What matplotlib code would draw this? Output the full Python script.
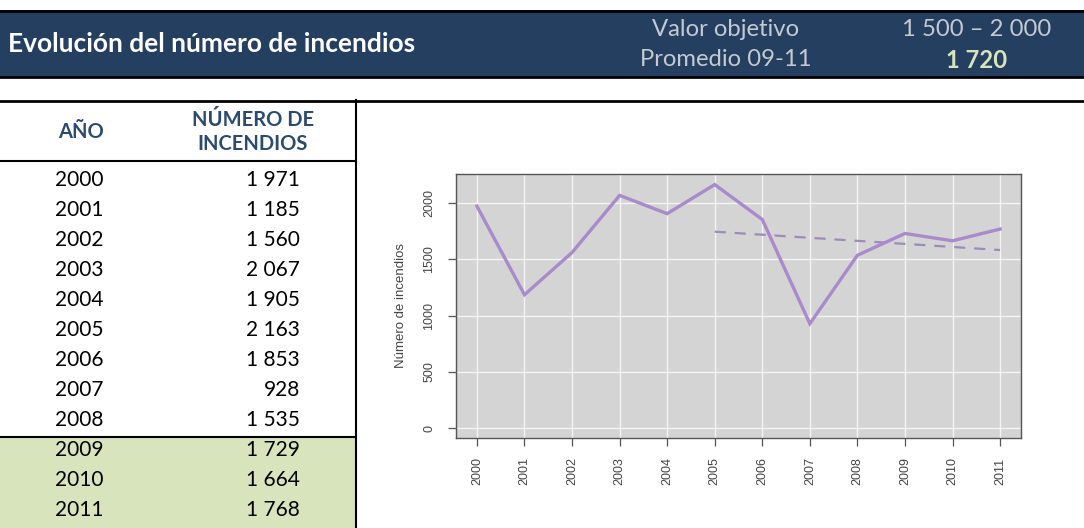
import matplotlib
matplotlib.use("Agg")
import matplotlib.pyplot as plt
from matplotlib.patches import Rectangle
from matplotlib.lines import Line2D

# ---- data ----
years = [2000, 2001, 2002, 2003, 2004, 2005, 2006, 2007, 2008, 2009, 2010, 2011]
fires = [1971, 1185, 1560, 2067, 1905, 2163, 1853, 928, 1535, 1729, 1664, 1768]
trend_years = [2005, 2011]
trend_values = [1745, 1582]
y_ticks = [0, 500, 1000, 1500, 2000]
title = "Evolución del número de incendios"
target_label = "Valor objetivo"
target_value = "1 500 – 2 000"
avg_label = "Promedio 09-11"
avg_value = "1 720"
col_headers = ["AÑO", "NÚMERO DE\nINCENDIOS"]

W, H = 1084, 528
fig = plt.figure(figsize=(W / 100, H / 100), dpi=100)
fig.patch.set_facecolor("white")

def fx(x):
    return x / W

def fy(y):
    return 1 - y / H

FONT = ["Lato", "DejaVu Sans"]
NAVY = "#243F60"
HEAD_BLUE = "#2B4B6E"
GREEN = "#D8E4BC"
LIGHT = "#C4CAD2"
RFS = 17.2

# ---- header banner ----
fig.patches.append(Rectangle((0, fy(77)), 1, (77 - 10) / H, transform=fig.transFigure,
                             facecolor=NAVY, edgecolor="none", zorder=0))
for yy in (10.5, 76.5):
    fig.lines.append(Line2D([0, 1], [fy(yy), fy(yy)], transform=fig.transFigure,
                            color="black", lw=2))
fig.text(fx(8), fy(44), title, color="white", fontsize=19, fontweight="bold",
         family=FONT, ha="left", va="center")
fig.text(fx(726), fy(30), target_label, color=LIGHT, fontsize=RFS,
         family=FONT, ha="center", va="center")
fig.text(fx(726), fy(60), avg_label, color=LIGHT, fontsize=RFS,
         family=FONT, ha="center", va="center")
fig.text(fx(977), fy(30), target_value, color=LIGHT, fontsize=RFS,
         family=FONT, ha="center", va="center")
fig.text(fx(977), fy(60), avg_value, color="#D7E4BD", fontsize=RFS, fontweight="bold",
         family=FONT, ha="center", va="center")

# ---- table ----
fig.lines.append(Line2D([0, 1], [fy(100.5), fy(100.5)], transform=fig.transFigure,
                        color="black", lw=2))
fig.lines.append(Line2D([fx(356), fx(356)], [fy(100), 0], transform=fig.transFigure,
                        color="black", lw=1.5))
fig.lines.append(Line2D([0, fx(356)], [fy(161), fy(161)], transform=fig.transFigure,
                        color="black", lw=1.5))
row_h = 30
row0 = 180
n_hl = 3
TFS = 15
green_top = row0 + (len(years) - n_hl) * row_h - row_h / 2 + 2
fig.patches.append(Rectangle((0, 0), fx(355), fy(green_top), transform=fig.transFigure,
                             facecolor=GREEN, edgecolor="none", zorder=0))
fig.lines.append(Line2D([0, fx(356)], [fy(green_top), fy(green_top)], transform=fig.transFigure,
                        color="black", lw=1.5))
fig.text(fx(81), fy(132), col_headers[0], color=HEAD_BLUE, fontsize=14.5, fontweight="bold",
         family=FONT, ha="center", va="center")
fig.text(fx(253), fy(132), col_headers[1], color=HEAD_BLUE, fontsize=14.5, fontweight="bold",
         family=FONT, ha="center", va="center", linespacing=1.2, multialignment="center")
for i, (yr, v) in enumerate(zip(years, fires)):
    y = row0 + i * row_h
    fig.text(fx(55), fy(y), str(yr), color="black", fontsize=TFS, family=FONT,
             ha="left", va="center")
    s = f"{v:,}".replace(",", " ")
    fig.text(fx(300), fy(y), s, color="black", fontsize=TFS, family=FONT,
             ha="right", va="center")

# ---- chart ----
ax = fig.add_axes([fx(456), fy(438), (1021 - 456) / W, (438 - 174) / H])
ax.set_facecolor("#D4D4D4")
ax.set_xlim(min(years) - 0.44, max(years) + 0.44)
ax.set_ylim(-87, 2257)
ax.set_xticks(years)
ax.set_yticks(y_ticks)
ax.grid(True, color="white", lw=1.0, alpha=0.75)
ax.set_axisbelow(True)
ax.plot(years, fires, color="#A98BCB", lw=2.4, solid_joinstyle="miter", zorder=3)
ax.plot(trend_years, trend_values, color="#9C8CB8", lw=1.6, ls=(0, (5, 4)), zorder=2)
for sp in ax.spines.values():
    sp.set_color("#555555")
    sp.set_linewidth(1.0)
ax.tick_params(axis="both", direction="out", length=6, width=0.9, color="#555555",
               labelsize=9, labelcolor="#444444")
ax.tick_params(axis="x", pad=8)
ax.tick_params(axis="y", pad=9)
ax.set_xticklabels([str(y) for y in years], rotation=90, family="Liberation Sans")
ax.set_yticklabels([str(v) for v in y_ticks], rotation=90, va="center",
                   family="Liberation Sans")
ax.set_ylabel("Número de incendios", fontsize=9.5, color="#444444",
              family="Liberation Sans", labelpad=12)

fig.savefig("out.png", dpi=100)
